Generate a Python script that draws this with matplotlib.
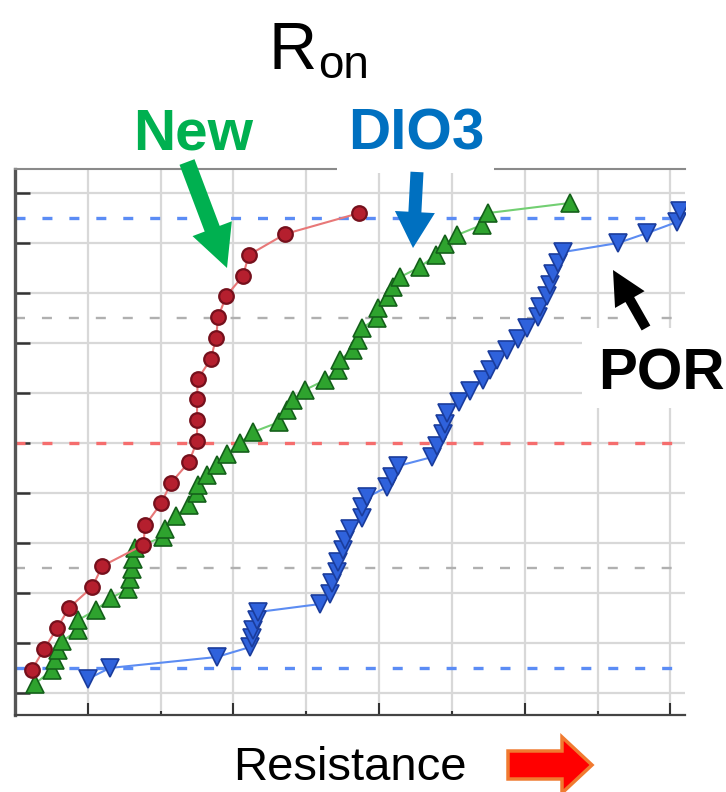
import matplotlib
matplotlib.use('Agg')
import matplotlib.pyplot as plt
from matplotlib.patches import FancyArrow, Rectangle

plt.rcParams['font.family'] = ['Liberation Sans', 'DejaVu Sans']

# ---------------- data (resistance a.u. / normal quantile) ----------------
new_r = [4.73, 3.71, 3.21, 3.13, 2.90, 2.79, 2.76, 2.69, 2.51, 2.50, 2.50, 2.50,
         2.39, 2.14, 2.01, 1.79, 1.76, 1.20, 1.06, 0.74, 0.58, 0.40, 0.23]
new_z = [4.60, 4.18, 3.76, 3.34, 2.94, 2.52, 2.10, 1.68, 1.28, 0.88, 0.46, 0.04,
         -0.38, -0.80, -1.20, -1.64, -2.04, -2.46, -2.88, -3.30, -3.70, -4.12, -4.54]

dio3_r = [0.27, 0.51, 0.55, 0.59, 0.65, 0.87, 0.87, 1.11, 1.32, 1.55, 1.58, 1.61,
          1.62, 1.65, 2.03, 2.06, 2.21, 2.39, 2.50, 2.51, 2.64, 2.77, 2.91, 3.09,
          3.27, 3.63, 3.74, 3.82, 3.98, 4.26, 4.44, 4.46, 4.64, 4.71, 4.77, 4.97,
          4.99, 5.12, 5.19, 5.29, 5.56, 5.78, 5.91, 6.07, 6.41, 6.50, 7.62]
dio3_z = [-4.82, -4.54, -4.34, -4.14, -3.96, -3.74, -3.54, -3.34, -3.10, -2.92, -2.72, -2.52,
          -2.32, -2.10, -1.88, -1.72, -1.46, -1.24, -1.00, -0.84, -0.64, -0.44, -0.22, 0.00,
          0.22, 0.42, 0.66, 0.86, 1.06, 1.26, 1.46, 1.66, 1.86, 2.06, 2.30, 2.50,
          2.70, 2.92, 3.12, 3.32, 3.52, 3.76, 3.98, 4.16, 4.36, 4.60, 4.80]

por_r = [1.00, 1.30, 2.77, 3.23, 3.26, 3.27, 3.32, 3.34, 4.19, 4.33, 4.35, 4.42,
         4.44, 4.51, 4.53, 4.60, 4.77, 4.77, 4.84, 5.11, 5.18, 5.26, 5.73, 5.80,
         5.88, 5.91, 5.93, 6.09, 6.25, 6.43, 6.52, 6.62, 6.76, 6.90, 7.03, 7.18,
         7.21, 7.31, 7.35, 7.39, 7.45, 7.53, 8.28, 8.68, 9.09, 9.13]
por_z = [-4.72, -4.50, -4.28, -4.08, -3.90, -3.74, -3.54, -3.38, -3.22, -3.02, -2.80, -2.58,
         -2.38, -2.14, -1.94, -1.72, -1.50, -1.28, -1.08, -0.88, -0.68, -0.46, -0.28, -0.06,
         0.18, 0.38, 0.60, 0.82, 1.04, 1.26, 1.46, 1.66, 1.86, 2.08, 2.30, 2.52,
         2.72, 2.94, 3.16, 3.38, 3.60, 3.82, 4.00, 4.20, 4.42, 4.64]

x_major = [1, 3, 5, 7, 9]
x_minor = [2, 4, 6, 8]
y_ticks = [-5, -4, -3, -2, -1, 0, 1, 2, 3, 4, 5]
ref_z = [4.5, -4.5, 2.5, -2.5, 0]
ref_colors = ['#5b8cf5', '#5b8cf5', '#b0b0b0', '#b0b0b0', '#f56d6d']

# ---------------- figure ----------------
fig = plt.figure(figsize=(7.26, 7.92), dpi=100)
ax = fig.add_axes([15/726, 77/792, 670/726, 546/792])
ax.set_xlim(0, 9.2)
ax.set_ylim(-5.44, 5.48)

ax.set_xticks(x_major)
ax.set_xticks(x_minor, minor=True)
ax.set_yticks(y_ticks)
ax.set_xticklabels([])
ax.set_yticklabels([])
ax.tick_params(axis='x', which='major', direction='in', length=8.5, width=1.5, color='#333333')
ax.tick_params(axis='x', which='minor', direction='in', length=3, width=1.5, color='#333333')
ax.tick_params(axis='y', direction='in', length=11, width=1.8, color='#333333')
ax.grid(True, which='both', color='#d8d8d8', lw=1.6)
ax.set_axisbelow(True)

ax.spines['right'].set_visible(False)
ax.spines['top'].set_color('#8a8a8a')
ax.spines['top'].set_linewidth(1.5)
ax.spines['left'].set_color('#555555')
ax.spines['left'].set_linewidth(2.4)
ax.spines['bottom'].set_color('#444444')
ax.spines['bottom'].set_linewidth(1.6)

for z, c in zip(ref_z, ref_colors):
    lw = 1.7 if c == '#b0b0b0' else 2.4
    ax.axhline(z, color=c, lw=lw, ls=(0, (7.2/lw, 12.2/lw)), zorder=2)

ax.plot(dio3_r, dio3_z, color='#72cf72', lw=1.5, marker='^', ms=12.5,
        mfc='#2ea32e', mec='#14601a', mew=1.2, zorder=3)
ax.plot(por_r, por_z, color='#5c8cf2', lw=1.5, marker='v', ms=12.5,
        mfc='#2f62dc', mec='#1a3c9c', mew=1.2, zorder=3)
ax.plot(new_r, new_z, color='#e87878', lw=1.5, marker='o', ms=10.5,
        mfc='#b51f2e', mec='#75101c', mew=1.6, zorder=4)

# ---------------- annotation layer (pixel coordinates) ----------------
ov = fig.add_axes([0, 0, 1, 1], zorder=5)
ov.set_xlim(0, 726)
ov.set_ylim(792, 0)
ov.axis('off')
ov.patch.set_alpha(0)

ov.text(268, 69, 'R', fontsize=48, ha='left', va='baseline')
ov.text(318, 78, 'on', fontsize=33, ha='left', va='baseline')

ov.text(133, 150, 'New', fontsize=42, fontweight='bold', color='#00b050', va='baseline')
ov.add_patch(Rectangle((337, 95), 157, 78, fc='white', ec='none', zorder=1))
ov.text(348, 150, 'DIO3', fontsize=42, fontweight='bold', color='#0070c0', va='baseline', zorder=2)

ov.add_patch(FancyArrow(187, 162, 40, 106, width=16, head_width=42, head_length=42,
                        length_includes_head=True, fc='#00b050', ec='none', zorder=3))
ov.add_patch(FancyArrow(417, 172, -4, 76, width=13, head_width=40, head_length=36,
                        length_includes_head=True, fc='#0070c0', ec='none', zorder=3))

ov.add_patch(Rectangle((582, 328), 144, 80, fc='white', ec='none', zorder=1))
ov.text(598, 390, 'POR', fontsize=42, fontweight='bold', color='black', va='baseline', zorder=2)
ov.add_patch(FancyArrow(646, 328, -33, -58, width=10, head_width=34, head_length=34,
                        length_includes_head=True, fc='black', ec='none', zorder=3))

ov.text(233, 780, 'Resistance', fontsize=34, ha='left', va='baseline')
ov.add_patch(FancyArrow(508, 765, 84, 0, width=28, head_width=56, head_length=30,
                        length_includes_head=True, fc='#ff0000', ec='#f07a30', lw=2.5, zorder=3))

fig.savefig('out.png', dpi=100)
